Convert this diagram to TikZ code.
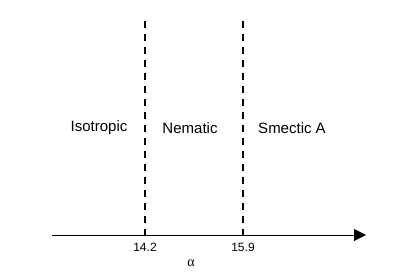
\documentclass[tikz,border=0pt]{standalone}
\usepackage{fontspec}
\setmainfont{Liberation Sans}
\newfontfamily\greekfont{Liberation Serif}
\usetikzlibrary{arrows.meta}
\begin{document}
\begin{tikzpicture}[x=1pt,y=-1pt,
  phase/.style={font=\fontsize{15}{17}\selectfont, inner sep=0pt},
  tick/.style={font=\fontsize{12}{14}\selectfont, inner sep=0pt},
  boundary/.style={line width=1.4pt, dash pattern=on 7pt off 6pt},
  axis/.style={line width=1pt, -{Triangle[length=12pt,width=12pt]}}]
\useasboundingbox (0,0) rectangle (403,273);
\coordinate (a0) at (52,235);
\coordinate (a1) at (366,235);
\coordinate (b1t) at (145,21);
\coordinate (b1b) at (145,235);
\coordinate (b2t) at (243,21);
\coordinate (b2b) at (243,235);
\draw[boundary] (b1t) -- (b1b);
\draw[boundary] (b2t) -- (b2b);
\draw[axis] (a0) -- (a1);
\node[phase] (iso) at (99,128) {Isotropic};
\node[phase] (nem) at (190,128) {Nematic};
\node[phase] (sma) at (292,128) {Smectic A};
\node[tick] (t1) at (145,247) {14.2};
\node[tick] (t2) at (243,247) {15.9};
\node[tick, font=\greekfont\fontsize{14}{16}\selectfont] (al) at (191,263) {α};
\end{tikzpicture}
\end{document}
